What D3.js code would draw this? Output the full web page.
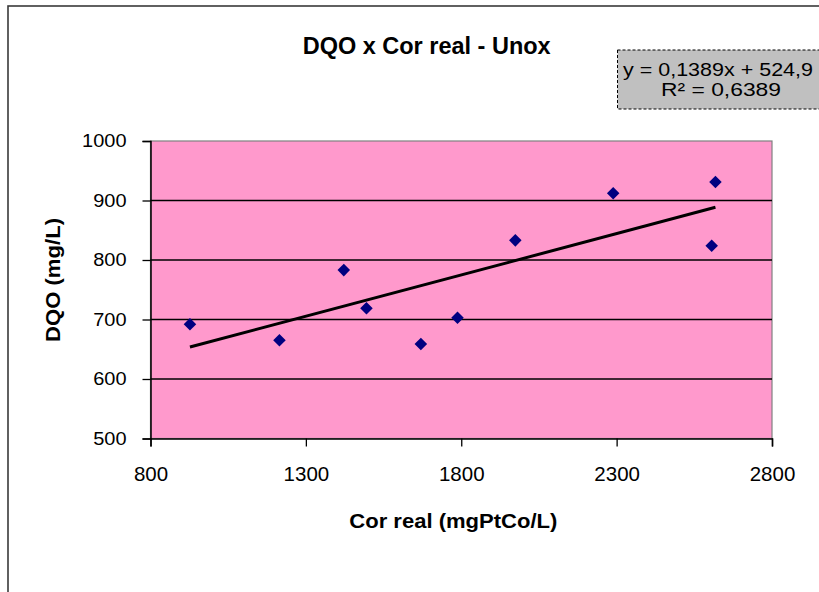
<!DOCTYPE html>
<html><head><meta charset="utf-8">
<script src="https://cdn.jsdelivr.net/npm/d3@7"></script>
<style>html,body{margin:0;padding:0;background:#fff;}svg{display:block;}</style>
</head><body>
<svg id="c" width="819" height="592"></svg>
<script>
// Data
const corReal = [927, 1215, 1422, 1495, 1670, 1788, 1974, 2289, 2618, 2606];
const dqo     = [692, 665, 783, 719, 659, 703, 833, 912, 931, 824];
const xTicks = [800, 1300, 1800, 2300, 2800];
const yTicks = [500, 600, 700, 800, 900, 1000];
const trendSlope = 0.1389;
const trendIntercept = 524.9;
const titleText = "DQO x Cor real - Unox";
const xTitle = "Cor real (mgPtCo/L)";
const yTitle = "DQO (mg/L)";
const eqLines = ["y = 0,1389x + 524,9", "R\u00B2 = 0,6389"];

const FONT = "'Liberation Sans', Arial, sans-serif";
const svg = d3.select("#c");
const L = 150.5, R = 772, T = 141, B = 438.5;
const x = d3.scaleLinear().domain([800, 2800]).range([L, R]);
const y = d3.scaleLinear().domain([500, 1000]).range([B, T]);

// outer chart frame
svg.append("rect").attr("x", 8).attr("y", 6).attr("width", 900).attr("height", 700)
  .attr("fill", "#fff").attr("stroke", "#3a3a3a").attr("stroke-width", 1.6);

// plot area
svg.append("rect").attr("x", L).attr("y", T).attr("width", R - L).attr("height", B - T)
  .attr("fill", "#FF99CC").attr("stroke", "#808080").attr("stroke-width", 1.2);

// gridlines
svg.append("g").selectAll("line").data(yTicks.filter(v => v > 500 && v < 1000)).join("line")
  .attr("x1", L).attr("x2", R).attr("y1", d => y(d)).attr("y2", d => y(d))
  .attr("stroke", "#000").attr("stroke-width", 1.5);

// axes
const yAxis = d3.axisLeft(y).tickValues(yTicks).tickSize(8).tickPadding(16).tickFormat(d3.format("d"));
const gy = svg.append("g").attr("transform", `translate(${L},0)`).call(yAxis);
gy.select(".domain").attr("stroke", "#000").attr("stroke-width", 1.5);
gy.selectAll(".tick line").attr("stroke", "#000").attr("stroke-width", 1.3);
gy.selectAll(".tick text").attr("font-family", FONT).attr("font-size", 17.5).attr("fill", "#000")
  .attr("textLength", d => String(d).length * 11.1).attr("lengthAdjust", "spacingAndGlyphs");

const xAxis = d3.axisBottom(x).tickValues(xTicks).tickSize(8).tickPadding(20).tickFormat(d3.format("d"));
const gx = svg.append("g").attr("transform", `translate(0,${B})`).call(xAxis);
gx.select(".domain").attr("stroke", "#000").attr("stroke-width", 1.5);
gx.selectAll(".tick line").attr("stroke", "#000").attr("stroke-width", 1.3);
gx.selectAll(".tick text").attr("font-family", FONT).attr("font-size", 20.5).attr("fill", "#000");

// trendline
const xs = d3.extent(corReal);
svg.append("line")
  .attr("x1", x(xs[0])).attr("y1", y(trendSlope * xs[0] + trendIntercept))
  .attr("x2", x(xs[1])).attr("y2", y(trendSlope * xs[1] + trendIntercept))
  .attr("stroke", "#000").attr("stroke-width", 3);

// markers
const pts = corReal.map((v, i) => ({x: v, y: dqo[i]}));
svg.append("g").selectAll("path").data(pts).join("path")
  .attr("d", d3.symbol(d3.symbolDiamond2, 100))
  .attr("transform", d => `translate(${x(d.x)},${y(d.y)})`)
  .attr("fill", "#000080");

// title
svg.append("text").attr("x", 426.7).attr("y", 54.3).attr("text-anchor", "middle")
  .attr("font-family", FONT).attr("font-weight", "bold").attr("font-size", 23.5)
  .attr("textLength", 248).attr("lengthAdjust", "spacingAndGlyphs").text(titleText);

// axis titles
svg.append("text").attr("x", 453.3).attr("y", 527.5).attr("text-anchor", "middle")
  .attr("font-family", FONT).attr("font-weight", "bold").attr("font-size", 21)
  .attr("textLength", 208).attr("lengthAdjust", "spacingAndGlyphs").text(xTitle);
svg.append("text").attr("transform", "translate(60,280) rotate(-90)").attr("text-anchor", "middle")
  .attr("font-family", FONT).attr("font-weight", "bold").attr("font-size", 21)
  .attr("textLength", 124).attr("lengthAdjust", "spacingAndGlyphs").text(yTitle);

// equation label
svg.append("rect").attr("x", 617.5).attr("y", 50).attr("width", 260).attr("height", 59)
  .attr("fill", "#C0C0C0").attr("stroke", "#000").attr("stroke-width", 1).attr("stroke-dasharray", "3,2");
svg.append("text").attr("x", 718).attr("y", 75.5).attr("text-anchor", "middle")
  .attr("font-family", FONT).attr("font-size", 19)
  .attr("textLength", 190).attr("lengthAdjust", "spacingAndGlyphs").text(eqLines[0]);
svg.append("text").attr("x", 721).attr("y", 95.5).attr("text-anchor", "middle")
  .attr("font-family", FONT).attr("font-size", 19)
  .attr("textLength", 120).attr("lengthAdjust", "spacingAndGlyphs").text(eqLines[1]);
</script>
</body></html>
